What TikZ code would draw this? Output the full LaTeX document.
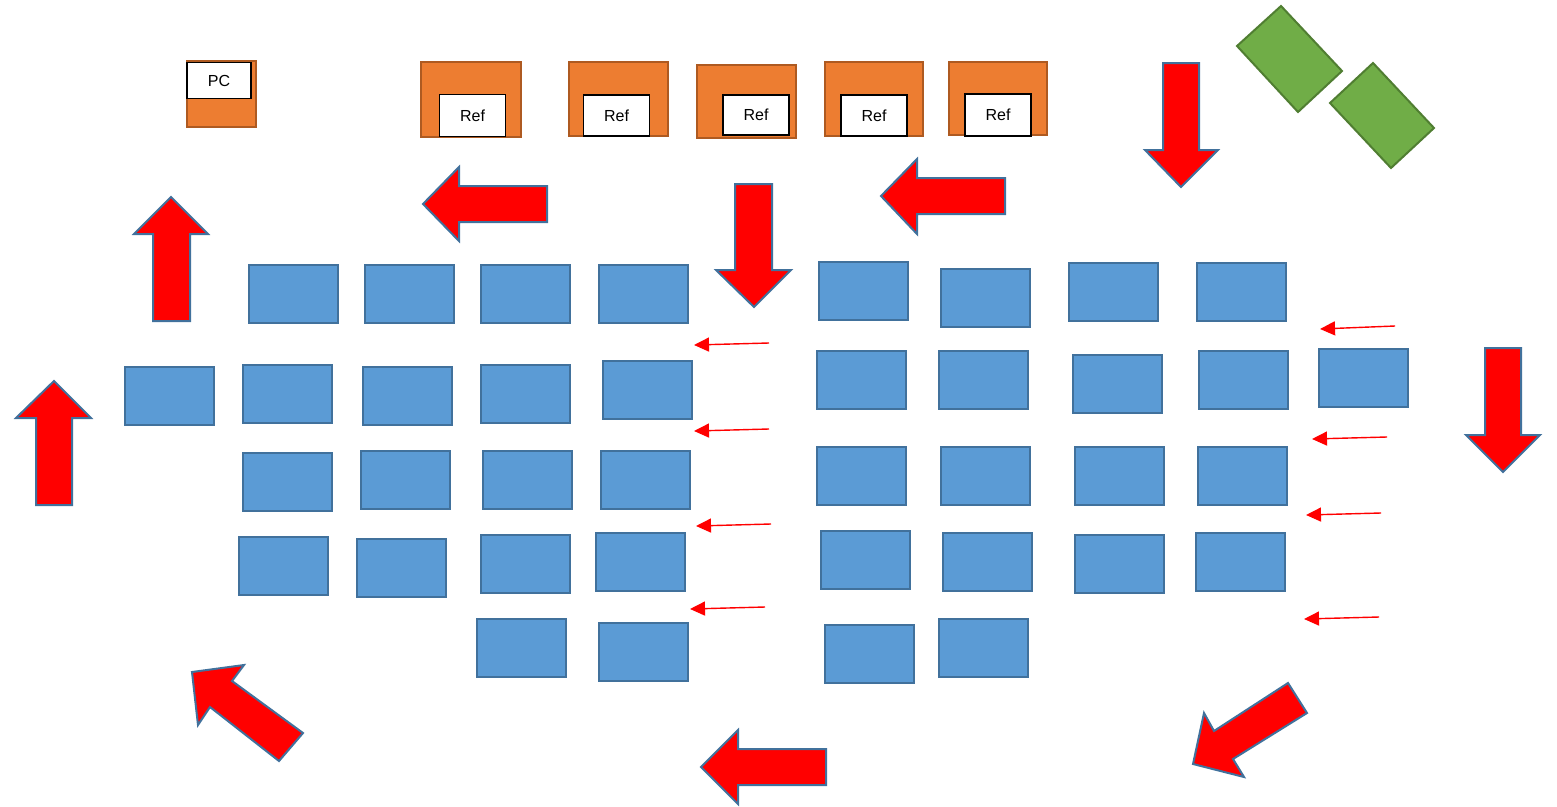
\documentclass[tikz,border=0pt]{standalone}
\usepackage{fontspec}
\setmainfont{Liberation Sans}
\usetikzlibrary{arrows.meta}
\definecolor{bfill}{HTML}{5B9BD5}
\definecolor{bline}{HTML}{41719C}
\definecolor{ofill}{HTML}{ED7D31}
\definecolor{oline}{HTML}{AE5A21}
\definecolor{gfill}{HTML}{70AD47}
\definecolor{gline}{HTML}{507E32}
\tikzset{
 seat/.style={draw=bline,fill=bfill,line width=2pt,minimum width=89pt,minimum height=58pt,inner sep=0pt},
 unit/.style={draw=oline,fill=ofill,line width=2pt,inner sep=0pt},
 tag/.style={draw=black,fill=white,line width=1.2pt,inner sep=0pt,font=\fontsize{16}{19}\selectfont},
 bigarrow/.style={draw=bline,fill=red,line width=2pt,line join=miter},
 plant/.style={draw=gline,fill=gfill,line width=2pt},
 flow/.style={draw=red,line width=1.4pt,-{Triangle[length=15pt,width=14pt]}}
}
\begin{document}
\begin{tikzpicture}[x=1pt,y=-1pt]
\useasboundingbox (0,0) rectangle (1557,806);
% orange units
\node[unit,minimum width=69pt,minimum height=66pt] (pcu) at (221,93.5) {};
\node[tag,minimum width=64pt,minimum height=36pt] (pc) at (219,80.5) {PC};
\node[unit,minimum width=100pt,minimum height=75pt] (r1u) at (470.5,99.5) {};
\node[tag,minimum width=66pt,minimum height=42pt] (r1) at (472.5,115.5) {Ref};
\node[unit,minimum width=99pt,minimum height=74pt] (r2u) at (618.5,99) {};
\node[tag,minimum width=66pt,minimum height=41pt] (r2) at (616.5,115.5) {Ref};
\node[unit,minimum width=99pt,minimum height=73pt] (r3u) at (746.5,101.5) {};
\node[tag,minimum width=66pt,minimum height=40pt] (r3) at (756,115) {Ref};
\node[unit,minimum width=98pt,minimum height=74pt] (r4u) at (874,99) {};
\node[tag,minimum width=66pt,minimum height=41pt] (r4) at (874,115.5) {Ref};
\node[unit,minimum width=98pt,minimum height=73pt] (r5u) at (998,98.5) {};
\node[tag,minimum width=66pt,minimum height=42pt] (r5) at (998,115) {Ref};
% green
\draw[plant] (1281,6) -- (1342,71) -- (1298,112) -- (1237,46) -- cycle;
\draw[plant] (1373,63) -- (1434,128) -- (1391,168) -- (1330,103) -- cycle;
% blue seats
\node[seat] (a1) at (293.5,294) {};
\node[seat] (a2) at (409.5,294) {};
\node[seat] (a3) at (525.5,294) {};
\node[seat] (a4) at (643.5,294) {};
\node[seat] (b1) at (863.5,290.5) {};
\node[seat] (b2) at (985.5,298) {};
\node[seat] (b3) at (1113.5,292) {};
\node[seat] (b4) at (1241.5,292) {};
\node[seat] (c1) at (169.5,396) {};
\node[seat] (c2) at (287.5,394) {};
\node[seat] (c3) at (407.5,396) {};
\node[seat] (c4) at (525.5,394) {};
\node[seat] (c5) at (647.5,390) {};
\node[seat] (d1) at (861.5,380) {};
\node[seat] (d2) at (983.5,380) {};
\node[seat] (d3) at (1117.5,384) {};
\node[seat] (d4) at (1243.5,380) {};
\node[seat] (d5) at (1363.5,378) {};
\node[seat] (e1) at (287.5,482) {};
\node[seat] (e2) at (405.5,480) {};
\node[seat] (e3) at (527.5,480) {};
\node[seat] (e4) at (645.5,480) {};
\node[seat] (f1) at (861.5,476) {};
\node[seat] (f2) at (985.5,476) {};
\node[seat] (f3) at (1119.5,476) {};
\node[seat] (f4) at (1242.5,476) {};
\node[seat] (g1) at (283.5,566) {};
\node[seat] (g2) at (401.5,568) {};
\node[seat] (g3) at (525.5,564) {};
\node[seat] (g4) at (640.5,562) {};
\node[seat] (h1) at (865.5,560) {};
\node[seat] (h2) at (987.5,562) {};
\node[seat] (h3) at (1119.5,564) {};
\node[seat] (h4) at (1240.5,562) {};
\node[seat] (i1) at (521.5,648) {};
\node[seat] (i2) at (643.5,652) {};
\node[seat] (j1) at (869.5,654) {};
\node[seat] (j2) at (983.5,648) {};
% big arrows
\draw[bigarrow] (171,197) -- (208,234) -- (190,234) -- (190,321) -- (153,321) -- (153,234) -- (134,234) -- cycle;
\draw[bigarrow] (54,381) -- (91,418) -- (72,418) -- (72,505) -- (36,505) -- (36,418) -- (16,418) -- cycle;
\draw[bigarrow] (423,204) -- (459,167) -- (459,186) -- (547,186) -- (547,222) -- (459,222) -- (459,241) -- cycle;
\draw[bigarrow] (754,307) -- (791,270) -- (772,270) -- (772,184) -- (735,184) -- (735,270) -- (716,270) -- cycle;
\draw[bigarrow] (881,196) -- (917,159) -- (917,178) -- (1005,178) -- (1005,214) -- (917,214) -- (917,234) -- cycle;
\draw[bigarrow] (1181,187) -- (1218,150) -- (1199,150) -- (1199,63) -- (1163,63) -- (1163,150) -- (1145,150) -- cycle;
\draw[bigarrow] (1503,472) -- (1540,435) -- (1521,435) -- (1521,348) -- (1485,348) -- (1485,435) -- (1466,435) -- cycle;
\draw[bigarrow] (701,767) -- (738,730) -- (738,749) -- (826,749) -- (826,785) -- (738,785) -- (738,804) -- cycle;
\draw[bigarrow] (192,672) -- (244,665) -- (232,681) -- (303,733) -- (279,761) -- (210,707) -- (198,725) -- cycle;
\draw[bigarrow] (1193,764) -- (1204,713) -- (1214,731) -- (1288,683) -- (1307,713) -- (1233,759) -- (1244,777) -- cycle;
% small arrows
\coordinate (s1a) at (769,343); \coordinate (s1b) at (694,345);
\coordinate (s2a) at (769,429); \coordinate (s2b) at (694,431);
\coordinate (s3a) at (771,524); \coordinate (s3b) at (696,526);
\coordinate (s4a) at (765,607); \coordinate (s4b) at (690,609);
\coordinate (t1a) at (1395,326); \coordinate (t1b) at (1320,329);
\coordinate (t2a) at (1387,437); \coordinate (t2b) at (1312,439);
\coordinate (t3a) at (1381,513); \coordinate (t3b) at (1306,515);
\coordinate (t4a) at (1379,617); \coordinate (t4b) at (1304,619);
\foreach \p in {s1,s2,s3,s4,t1,t2,t3,t4} \draw[flow] (\p a) -- (\p b);
\end{tikzpicture}
\end{document}
